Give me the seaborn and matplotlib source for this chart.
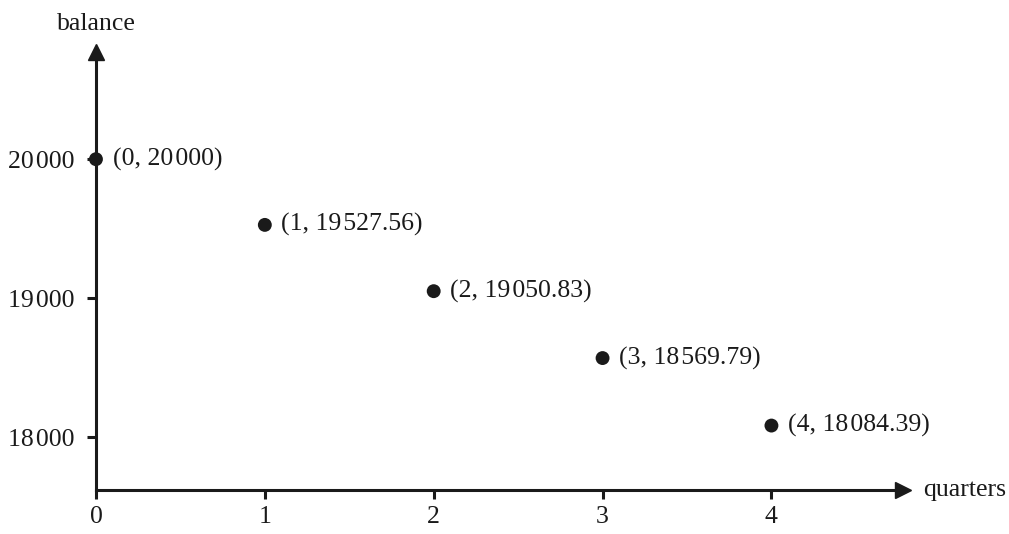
import matplotlib
matplotlib.use("Agg")
import matplotlib.pyplot as plt
import seaborn as sns
import pandas as pd

quarters = [0, 1, 2, 3, 4]
balance = [20000, 19527.56, 19050.83, 18569.79, 18084.39]
point_labels = ["(0, 20\u200a000)", "(1, 19\u200a527.56)", "(2, 19\u200a050.83)",
                "(3, 18\u200a569.79)", "(4, 18\u200a084.39)"]
y_ticks = [18000, 19000, 20000]
y_tick_labels = ["18\u200a000", "19\u200a000", "20\u200a000"]
x_ticks = [0, 1, 2, 3, 4]

sns.set_style("ticks")
plt.rcParams['font.family'] = ['Liberation Serif', 'DejaVu Serif']

df = pd.DataFrame({"quarters": quarters, "balance": balance})

fig = plt.figure(figsize=(10.09, 5.34), dpi=100)
ax = fig.add_axes([0.0951, 0.0824, 0.80, 0.82])

sns.scatterplot(data=df, x="quarters", y="balance", ax=ax, s=100,
                color="#1a1a1a", edgecolor="none", zorder=5, clip_on=False)

fs = 18.5
for x, y, lab in zip(quarters, balance, point_labels):
    ax.annotate(lab, (x, y), xytext=(12, 0), textcoords="offset points",
                va="center", ha="left", fontsize=fs, color="#1a1a1a")

ax.set_xlim(0, 4.78)
ax.set_ylim(17621, 20770)
ax.set_xticks(x_ticks)
ax.set_xticklabels([str(t) for t in x_ticks], fontsize=fs)
ax.set_yticks(y_ticks)
ax.set_yticklabels(y_tick_labels, fontsize=fs)
ax.tick_params(axis="both", direction="out", length=6.5, width=2.2,
               color="#1a1a1a", labelcolor="#1a1a1a", pad=5)
ax.tick_params(axis="y", pad=9)

for side in ["top", "right"]:
    ax.spines[side].set_visible(False)
for side in ["left", "bottom"]:
    ax.spines[side].set_linewidth(2.2)
    ax.spines[side].set_color("#1a1a1a")

# arrow heads
ax.plot(1, 0, ">", color="#1a1a1a", markersize=12, transform=ax.transAxes, clip_on=False)
ax.plot(0, 1, "^", color="#1a1a1a", markersize=12, transform=ax.transAxes, clip_on=False)

ax.set_xlabel("")
ax.set_ylabel("")
ax.text(1.025, 0, "quarters", transform=ax.transAxes, fontsize=fs,
        va="center", ha="left", color="#1a1a1a")
ax.text(0, 1.064, "balance", transform=ax.transAxes, fontsize=fs,
        va="center", ha="center", color="#1a1a1a")

fig.savefig("out.png", dpi=100)
